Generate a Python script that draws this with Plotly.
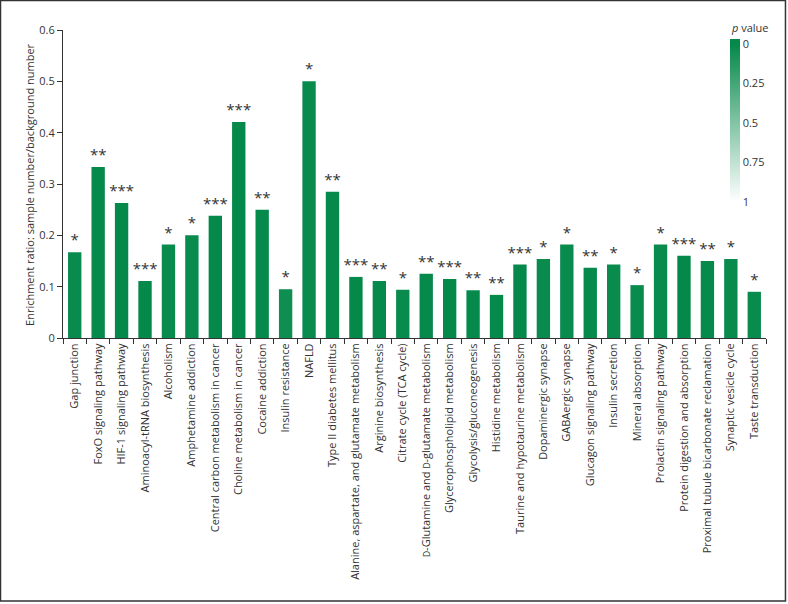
import plotly.graph_objects as go

# KEGG pathways (x axis)
pathways = [
    "Gap junction",
    "FoxO signaling pathway",
    "HIF-1 signaling pathway",
    "Aminoacyl-tRNA biosynthesis",
    "Alcoholism",
    "Amphetamine addiction",
    "Central carbon metabolism in cancer",
    "Choline metabolism in cancer",
    "Cocaine addiction",
    "Insulin resistance",
    "NAFLD",
    "Type II diabetes mellitus",
    "Alanine, aspartate, and glutamate metabolism",
    "Arginine biosynthesis",
    "Citrate cycle (TCA cycle)",
    "<span style='font-size:8.5px'>D</span>-Glutamine and <span style='font-size:8.5px'>D</span>-glutamate metabolism",
    "Glycerophospholipid metabolism",
    "Glycolysis/gluconeogenesis",
    "Histidine metabolism",
    "Taurine and hypotaurine metabolism",
    "Dopaminergic synapse",
    "GABAergic synapse",
    "Glucagon signaling pathway",
    "Insulin secretion",
    "Mineral absorption",
    "Prolactin signaling pathway",
    "Protein digestion and absorption",
    "Proximal tubule bicarbonate reclamation",
    "Synaptic vesicle cycle",
    "Taste transduction",
]

# enrichment ratio: sample number / background number
ratio = [
    0.167, 0.333, 0.263, 0.111, 0.182, 0.200, 0.238, 0.421, 0.250, 0.095,
    0.500, 0.285, 0.119, 0.111, 0.094, 0.125, 0.115, 0.093, 0.084, 0.143,
    0.154, 0.182, 0.137, 0.143, 0.103, 0.182, 0.160, 0.150, 0.154, 0.090,
]

# p values (colour) - all close to 0
p_values = [
    0.02, 0.005, 0.001, 0.001, 0.02, 0.02, 0.001, 0.001, 0.005, 0.04,
    0.02, 0.005, 0.001, 0.005, 0.02, 0.005, 0.001, 0.005, 0.005, 0.001,
    0.02, 0.02, 0.005, 0.02, 0.02, 0.02, 0.001, 0.005, 0.02, 0.02,
]

stars = [
    "*", "**", "***", "***", "*", "*", "***", "***", "**", "*",
    "*", "**", "***", "**", "*", "**", "***", "**", "**", "***",
    "*", "*", "**", "*", "*", "*", "***", "**", "*", "*",
]

cbar_ticks = [0, 0.25, 0.5, 0.75, 1]

FONT = "Open Sans, Noto Sans, sans-serif"
GREEN = "#05894a"
INK = "#333333"

# colour by 1 - p so that p = 0 sits at the top of the colour bar
shade = [1 - p for p in p_values]

fig = go.Figure()
fig.add_trace(go.Bar(
    x=pathways,
    y=ratio,
    text=stars,
    textposition="outside",
    constraintext="none",
    cliponaxis=False,
    textfont=dict(family=FONT, size=15, color=INK),
    marker=dict(
        color=shade,
        cmin=-0.032,
        cmax=1.032,
        colorscale=[[0, "#ffffff"], [0.03, "#ffffff"], [0.97, GREEN], [1, GREEN]],
        line=dict(width=0),
        colorbar=dict(
            tickvals=[1 - t for t in cbar_ticks],
            ticktext=[str(t) for t in cbar_ticks],
            tickfont=dict(family=FONT, size=11, color=INK),
            ticks="",
            outlinewidth=0,
            thickness=10,
            lenmode="pixels",
            len=168,
            x=0.949,
            xanchor="left",
            y=0.9708,
            yanchor="top",
            xpad=0,
            ypad=0,
        ),
    ),
    showlegend=False,
))

fig.update_layout(
    width=788,
    height=604,
    margin=dict(l=63, r=22, t=30, b=266, autoexpand=False),
    plot_bgcolor="white",
    paper_bgcolor="white",
    bargap=0.43,
    font=dict(family=FONT, size=11, color=INK),
    xaxis=dict(
        tickangle=-90,
        ticks="outside",
        tickson="boundaries",
        ticklen=5,
        tickcolor=INK,
        showline=True,
        linecolor=INK,
        linewidth=1,
        showgrid=False,
        automargin=False,
        tickfont=dict(size=11),
    ),
    yaxis=dict(
        range=[0, 0.6],
        dtick=0.1,
        tickformat="~g",
        ticks="outside",
        ticklen=5,
        tickcolor=INK,
        showline=True,
        linecolor=INK,
        linewidth=1,
        showgrid=False,
        zeroline=False,
        automargin=False,
        tickfont=dict(size=11),
    ),
    annotations=[
        dict(text="Enrichment ratio: sample number/background number",
             xref="paper", yref="paper", x=-0.0484, y=0.5,
             xanchor="center", yanchor="middle", textangle=-90,
             showarrow=False, font=dict(size=11, color=INK)),
        dict(text="<i>p</i> value",
             xref="paper", yref="paper", x=0.9475, y=1.0065,
             xanchor="left", yanchor="middle",
             showarrow=False, font=dict(size=11, color=INK)),
    ],
    shapes=[dict(
        type="rect", xref="paper", yref="paper",
        x0=-0.0889, x1=1.0277, y0=-0.854, y1=1.0958,
        line=dict(color=INK, width=1.5),
    )],
)

# drop the browser's default 8px body margin so the figure sits at the top-left corner
fig.write_html("out.html", config={"displayModeBar": False},
               post_script="document.body.style.margin = '0';")
